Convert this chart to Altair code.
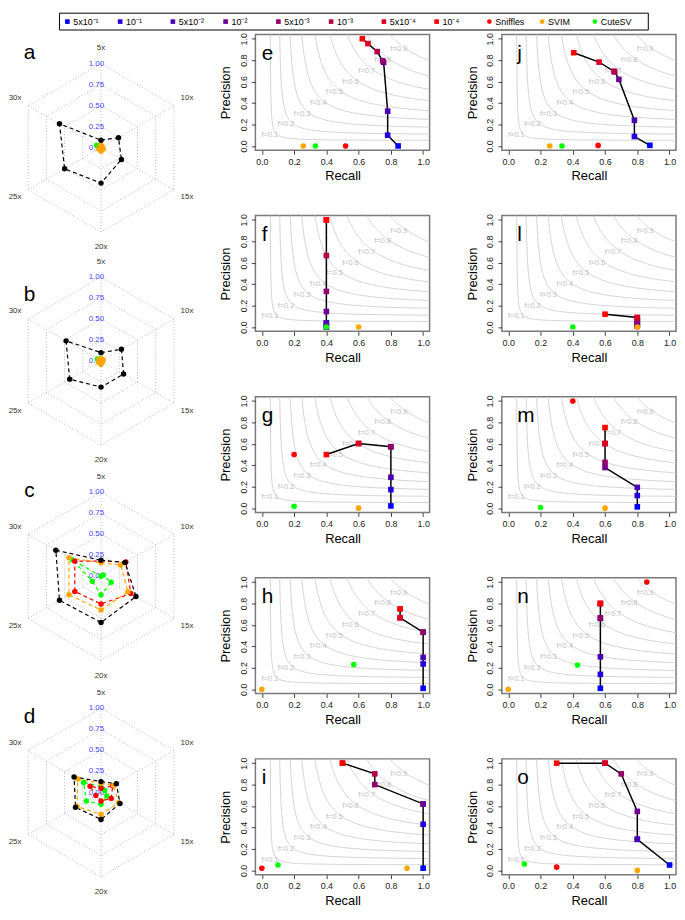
import math
import altair as alt
import numpy as np
import pandas as pd

FONT = "Liberation Sans"

# ---------------- categories / legend ----------------
THRESH_LABELS = ["5x10\u207b\u00b9", "10\u207b\u00b9", "5x10\u207b\u00b2", "10\u207b\u00b2",
                 "5x10\u207b\u00b3", "10\u207b\u00b3", "5x10\u207b\u2074", "10\u207b\u2074"]
THRESH_COLORS = ["#0000FF", "#2400DA", "#4800B6", "#6D0091", "#91006D", "#B60048", "#DA0024", "#FF0000"]
TOOLS = ["Sniffles", "SVIM", "CuteSV"]
TOOL_COLORS = ["#FF0000", "#FFA500", "#00FF00"]

F_LEVELS = [0.1, 0.2, 0.3, 0.4, 0.5, 0.6, 0.7, 0.8, 0.9]
PR_TICKS = [0.0, 0.2, 0.4, 0.6, 0.8, 1.0]

# ---------------- precision / recall panels (thresholds 5x10^-1 ... 10^-4) ----------------
E_THR_RECALL = [0.845, 0.78, 0.78, 0.755, 0.749, 0.715, 0.658, 0.623]
E_THR_PRECISION = [0.0, 0.10, 0.324, 0.78, 0.794, 0.88, 0.955, 1.0]
E_TOOL_RECALL = [0.519, 0.257, 0.332]
E_TOOL_PRECISION = [0.0, 0.0, 0.0]

F_THR_RECALL = [0.4, 0.4, 0.4, 0.4, 0.4, 0.4, 0.4, 0.4]
F_THR_PRECISION = [0.0, 0.033, 0.04, 0.145, 0.333, 0.667, 1.0, 1.0]
F_TOOL_RECALL = [0.4, 0.6, 0.4]
F_TOOL_PRECISION = [0.0, 0.0, 0.0]

G_THR_RECALL = [0.8, 0.8, 0.8, 0.8, 0.8, 0.6, 0.6, 0.4]
G_THR_PRECISION = [0.021, 0.173, 0.288, 0.573, 0.573, 0.603, 0.603, 0.5]
G_TOOL_RECALL = [0.2, 0.6, 0.2]
G_TOOL_PRECISION = [0.5, 0.0, 0.018]

H_THR_RECALL = [1.0, 1.0, 1.0, 1.0, 1.0, 0.857, 0.857, 0.857]
H_THR_PRECISION = [0.009, 0.236, 0.297, 0.533, 0.533, 0.667, 0.667, 0.75]
H_TOOL_RECALL = [0.857, 0.0, 0.570]
H_TOOL_PRECISION = [0.75, 0.0, 0.23]

I_THR_RECALL = [1.0, 1.0, 1.0, 1.0, 0.7, 0.7, 0.5, 0.5]
I_THR_PRECISION = [0.02, 0.43, 0.62, 0.62, 0.8, 0.9, 1.0, 1.0]
I_TOOL_RECALL = [0.0, 0.9, 0.1]
I_TOOL_PRECISION = [0.02, 0.02, 0.05]

J_THR_RECALL = [0.878, 0.782, 0.782, 0.686, 0.660, 0.655, 0.563, 0.406]
J_THR_PRECISION = [0.006, 0.088, 0.239, 0.621, 0.690, 0.697, 0.782, 0.870]
J_TOOL_RECALL = [0.557, 0.257, 0.333]
J_TOOL_PRECISION = [0.005, 0.0, 0.0]

L_THR_RECALL = [0.8, 0.8, 0.8, 0.8, 0.8, 0.8, 0.8, 0.6]
L_THR_PRECISION = [0.01, 0.02, 0.03, 0.05, 0.07, 0.085, 0.09, 0.12]
L_TOOL_RECALL = [0.8, 0.8, 0.4]
L_TOOL_PRECISION = [0.0, 0.0, 0.0]

M_THR_RECALL = [0.8, 0.8, 0.8, 0.6, 0.6, 0.6, 0.6, 0.6]
M_THR_PRECISION = [0.012, 0.118, 0.194, 0.379, 0.427, 0.603, 0.603, 0.752]
M_TOOL_RECALL = [0.4, 0.6, 0.2]
M_TOOL_PRECISION = [1.0, 0.0, 0.006]

N_THR_RECALL = [0.571, 0.571, 0.571, 0.571, 0.571, 0.571, 0.571, 0.571]
N_THR_PRECISION = [0.009, 0.139, 0.303, 0.661, 0.667, 0.8, 0.8, 0.8]
N_TOOL_RECALL = [0.859, 0.0, 0.429]
N_TOOL_PRECISION = [1.0, 0.0, 0.227]

O_THR_RECALL = [1.0, 0.8, 0.8, 0.8, 0.7, 0.6, 0.6, 0.3]
O_THR_PRECISION = [0.05, 0.29, 0.29, 0.55, 0.9, 1.0, 1.0, 1.0]
O_TOOL_RECALL = [0.3, 0.8, 0.1]
O_TOOL_PRECISION = [0.03, 0.0, 0.06]

# ---------------- radar panels (coverage axes) ----------------
RADAR_AXES = ["5x", "10x", "15x", "20x", "25x", "30x"]
RADAR_LEVELS = [0.0, 0.25, 0.5, 0.75, 1.0]
RADAR_SERIES = ["CuteSV", "Sniffles", "SVIM", "Proposed"]   # drawing order
RADAR_SERIES_COLORS = ["#00FF00", "#FF0000", "#FFA500", "#000000"]

RADAR_A_CUTESV = [0.03, 0.01, 0.0, 0.01, 0.02, 0.06]
RADAR_A_SNIFFLES = [0.02, 0.0, 0.01, 0.02, 0.01, 0.02]
RADAR_A_SVIM = [0.03, 0.02, 0.03, 0.04, 0.03, 0.02]
RADAR_A_PROPOSED = [0.09, 0.24, 0.28, 0.42, 0.50, 0.57]

RADAR_B_CUTESV = [0.02, 0.01, 0.0, 0.02, 0.03, 0.05]
RADAR_B_SNIFFLES = [0.01, 0.02, 0.01, 0.0, 0.02, 0.01]
RADAR_B_SVIM = [0.03, 0.03, 0.02, 0.04, 0.03, 0.03]
RADAR_B_PROPOSED = [0.10, 0.28, 0.31, 0.31, 0.43, 0.48]

RADAR_C_CUTESV = [0.0, 0.03, 0.14, 0.22, 0.12, 0.39]
RADAR_C_SNIFFLES = [0.18, 0.34, 0.41, 0.33, 0.36, 0.36]
RADAR_C_SVIM = [0.16, 0.27, 0.37, 0.40, 0.44, 0.44]
RADAR_C_PROPOSED = [0.19, 0.33, 0.48, 0.55, 0.57, 0.62]

RADAR_D_CUTESV = [0.07, 0.05, 0.08, 0.14, 0.20, 0.24]
RADAR_D_SNIFFLES = [0.05, 0.16, 0.14, 0.10, 0.07, 0.15]
RADAR_D_SVIM = [0.11, 0.17, 0.24, 0.26, 0.33, 0.32]
RADAR_D_PROPOSED = [0.13, 0.21, 0.26, 0.32, 0.35, 0.37]

RADAR_PANELS = [
    ("a", [RADAR_A_CUTESV, RADAR_A_SNIFFLES, RADAR_A_SVIM, RADAR_A_PROPOSED]),
    ("b", [RADAR_B_CUTESV, RADAR_B_SNIFFLES, RADAR_B_SVIM, RADAR_B_PROPOSED]),
    ("c", [RADAR_C_CUTESV, RADAR_C_SNIFFLES, RADAR_C_SVIM, RADAR_C_PROPOSED]),
    ("d", [RADAR_D_CUTESV, RADAR_D_SNIFFLES, RADAR_D_SVIM, RADAR_D_PROPOSED]),
]

# ---------------- layout constants ----------------
PANEL_W, PANEL_H = 176, 117
PANEL_VSPACE = 66
COL_SPACE = 73
RADAR_W = 177
RADAR_PX = 85.0
RADAR_CX_PX = 94.0
RADAR_CY_PX = [114.5, 147.0, 181.5, 217.0]      # centre offset below the top of its grid row
RADAR_LETTER_DY_PX = [96, 67, 86, 76]
LEG_W, LEG_H = 675, 18
LEG_X0, LEG_STEP = 60.0, 53.3
LEG_BOX = (52.0, 647.0)

# ================= PR panels =================
pr_x_scale = alt.Scale(domain=[-0.04, 1.04], nice=False, zero=False)
pr_y_scale = alt.Scale(domain=[-0.04, 1.04], nice=False, zero=False)

X_AXIS = alt.Axis(values=PR_TICKS, format=".1f", title="Recall", grid=False, domain=False,
                  tickSize=4, tickColor="#444444", labelFontSize=9, labelColor="#222222",
                  labelPadding=3, labelFont=FONT, titleFont=FONT, titleFontSize=13,
                  titleFontWeight="normal", titleColor="black", titlePadding=4)
Y_AXIS = alt.Axis(values=PR_TICKS, format=".1f", title="Precision", grid=False, domain=False,
                  tickSize=4, tickColor="#444444", labelFontSize=9, labelColor="#222222",
                  labelAngle=270, labelAlign="center", labelBaseline="bottom",
                  labelPadding=3, labelFont=FONT, titleFont=FONT, titleFontSize=13,
                  titleFontWeight="normal", titleColor="black", titlePadding=7)


def px():
    return alt.X("recall:Q", scale=pr_x_scale, axis=X_AXIS)


def py():
    return alt.Y("precision:Q", scale=pr_y_scale, axis=Y_AXIS)


curve_rows = []
for f in F_LEVELS:
    r0 = f * 1.15 / (2.3 - f)
    for j, t in enumerate(np.linspace(0.0, 1.0, 90)):
        r = r0 + (1.04 - r0) * t ** 2
        curve_rows.append({"f": f, "idx": j, "recall": r, "precision": f * r / (2 * r - f)})
curves_df = pd.DataFrame(curve_rows)
flabel_df = pd.DataFrame({"recall": [f - 0.05 for f in F_LEVELS],
                          "precision": F_LEVELS,
                          "text": [f"f={f:.1f}" for f in F_LEVELS]})


def pr_panel(letter, thr_r, thr_p, tool_r, tool_p, letter_x):
    thr_df = pd.DataFrame({"recall": thr_r, "precision": thr_p,
                           "col": THRESH_COLORS, "idx": list(range(len(thr_r)))})
    tool_df = pd.DataFrame({"recall": tool_r, "precision": tool_p, "col": TOOL_COLORS})
    letter_df = pd.DataFrame({"recall": [letter_x], "precision": [0.86], "text": [letter]})

    curves = alt.Chart(curves_df).mark_line(clip=True, color="#cfcfcf", strokeWidth=0.9).encode(
        x=px(), y=py(), detail="f:N", order="idx:Q")
    flabels = alt.Chart(flabel_df).mark_text(fontSize=7.5, color="#bdbdbd", font=FONT).encode(
        x=px(), y=py(), text="text:N")
    path = alt.Chart(thr_df).mark_line(color="black", strokeWidth=1.5).encode(
        x=px(), y=py(), order="idx:Q")
    squares = alt.Chart(thr_df).mark_square(size=32, opacity=1).encode(
        x=px(), y=py(), color=alt.Color("col:N", scale=None))
    tools = alt.Chart(tool_df).mark_circle(size=32, opacity=1).encode(
        x=px(), y=py(), color=alt.Color("col:N", scale=None))
    lab = alt.Chart(letter_df).mark_text(fontSize=21, align="left", baseline="middle",
                                         font=FONT, color="black").encode(
        x=px(), y=py(), text="text:N")
    return alt.layer(curves, flabels, path, squares, tools, lab).properties(
        width=PANEL_W, height=PANEL_H,
        view=alt.ViewBackground(stroke="#7a7a7a", strokeWidth=1.5))


# ================= radar panels =================
rx_scale = alt.Scale(domain=[-RADAR_CX_PX / RADAR_PX, (RADAR_W - RADAR_CX_PX) / RADAR_PX],
                     nice=False, zero=False)
ry_scale = alt.Scale(domain=[-PANEL_H / RADAR_PX, 0.0], nice=False, zero=False)


def rx():
    return alt.X("x:Q", scale=rx_scale, axis=None)


def ry():
    return alt.Y("y:Q", scale=ry_scale, axis=None)


def radar_cell(k):
    letter, series_vals = RADAR_PANELS[k]
    cy = -RADAR_CY_PX[k] / RADAR_PX

    def polar(v, i):
        ang = math.radians(60 * i)
        return v * math.sin(ang), cy + v * math.cos(ang)

    grid_rows, spoke_rows, vlab_rows, alab_rows, ser_rows, pt_rows = [], [], [], [], [], []
    for lev in RADAR_LEVELS[1:]:
        for j in range(7):
            x, y = polar(lev, j % 6)
            grid_rows.append({"x": x, "y": y, "grp": f"{lev}", "idx": j})
    for i in range(6):
        x2, y2 = polar(1.0, i)
        spoke_rows.append({"x": 0.0, "y": cy, "x2": x2, "y2": y2})
        lx, ly = polar(1.18, i)
        alab_rows.append({"x": lx, "y": ly, "text": RADAR_AXES[i]})
    for lev in RADAR_LEVELS:
        vlab_rows.append({"x": -0.055, "y": cy + lev, "text": f"{lev:.2f}"})
    for s, vals in enumerate(series_vals):
        for j in range(7):
            x, y = polar(vals[j % 6], j % 6)
            ser_rows.append({"x": x, "y": y, "grp": f"{s}", "idx": j,
                             "col": RADAR_SERIES_COLORS[s]})
            if j < 6:
                pt_rows.append({"x": x, "y": y, "col": RADAR_SERIES_COLORS[s]})
    let_df = pd.DataFrame({"x": [-0.85], "y": [cy + RADAR_LETTER_DY_PX[k] / RADAR_PX],
                           "text": [letter]})

    r_grid = alt.Chart(pd.DataFrame(grid_rows)).mark_line(
        color="#a8a8a8", strokeWidth=0.8, strokeDash=[1, 2]).encode(
        x=rx(), y=ry(), detail="grp:N", order="idx:Q")
    r_spokes = alt.Chart(pd.DataFrame(spoke_rows)).mark_rule(
        color="#a8a8a8", strokeWidth=0.8, strokeDash=[1, 2]).encode(
        x=rx(), y=ry(), x2="x2:Q", y2="y2:Q")
    r_vlab = alt.Chart(pd.DataFrame(vlab_rows)).mark_text(
        fontSize=8, color="#4646ff", font=FONT).encode(x=rx(), y=ry(), text="text:N")
    r_alab = alt.Chart(pd.DataFrame(alab_rows)).mark_text(
        fontSize=8, color="#333333", font=FONT).encode(x=rx(), y=ry(), text="text:N")
    r_lines = alt.Chart(pd.DataFrame(ser_rows)).mark_line(strokeWidth=1.2, strokeDash=[4, 3]).encode(
        x=rx(), y=ry(), detail="grp:N", order="idx:Q", color=alt.Color("col:N", scale=None))
    r_points = alt.Chart(pd.DataFrame(pt_rows)).mark_circle(size=30, opacity=1).encode(
        x=rx(), y=ry(), color=alt.Color("col:N", scale=None))
    r_letter = alt.Chart(let_df).mark_text(fontSize=21, color="black", font=FONT,
                                           baseline="middle").encode(x=rx(), y=ry(), text="text:N")
    return alt.layer(r_grid, r_spokes, r_vlab, r_alab, r_lines, r_points, r_letter).properties(
        width=RADAR_W, height=PANEL_H)


blank = alt.Chart(pd.DataFrame({"x": [0.0], "y": [0.0]})).mark_point(opacity=0).encode(
    x=rx(), y=ry()).properties(width=RADAR_W, height=PANEL_H)

# ================= legend =================
leg_labels = THRESH_LABELS + TOOLS
leg_df = pd.DataFrame({
    "x": [LEG_X0 + LEG_STEP * i for i in range(len(leg_labels))],
    "y": [LEG_H / 2] * len(leg_labels),
    "label": leg_labels,
    "col": THRESH_COLORS + TOOL_COLORS,
    "shape": ["square"] * len(THRESH_LABELS) + ["circle"] * len(TOOLS),
})
box_df = pd.DataFrame({"x": [LEG_BOX[0]], "x2": [LEG_BOX[1]], "y": [0.5], "y2": [LEG_H - 0.5]})
lx_scale = alt.Scale(domain=[0, LEG_W], nice=False, zero=False)
ly_scale = alt.Scale(domain=[0, LEG_H], nice=False, zero=False)

leg_box = alt.Chart(box_df).mark_rect(fillOpacity=0, stroke="black", strokeWidth=1).encode(
    x=alt.X("x:Q", scale=lx_scale, axis=None), x2="x2:Q",
    y=alt.Y("y:Q", scale=ly_scale, axis=None), y2="y2:Q")
leg_marks = alt.Chart(leg_df).mark_point(filled=True, size=22, opacity=1).encode(
    x=alt.X("x:Q", scale=lx_scale, axis=None), y=alt.Y("y:Q", scale=ly_scale, axis=None),
    shape=alt.Shape("shape:N", scale=None), color=alt.Color("col:N", scale=None))
leg_text = alt.Chart(leg_df).mark_text(align="left", baseline="middle", dx=6, fontSize=9,
                                       font=FONT, color="black").encode(
    x=alt.X("x:Q", scale=lx_scale, axis=None), y=alt.Y("y:Q", scale=ly_scale, axis=None),
    text="label:N")
legend = alt.layer(leg_box, leg_marks, leg_text).properties(width=LEG_W, height=LEG_H)

# ================= assemble =================
cells = [
    radar_cell(0), pr_panel("e", E_THR_RECALL, E_THR_PRECISION, E_TOOL_RECALL, E_TOOL_PRECISION, 0.0),
    pr_panel("j", J_THR_RECALL, J_THR_PRECISION, J_TOOL_RECALL, J_TOOL_PRECISION, 0.055),
    radar_cell(1), pr_panel("f", F_THR_RECALL, F_THR_PRECISION, F_TOOL_RECALL, F_TOOL_PRECISION, 0.0),
    pr_panel("l", L_THR_RECALL, L_THR_PRECISION, L_TOOL_RECALL, L_TOOL_PRECISION, 0.055),
    radar_cell(2), pr_panel("g", G_THR_RECALL, G_THR_PRECISION, G_TOOL_RECALL, G_TOOL_PRECISION, 0.0),
    pr_panel("m", M_THR_RECALL, M_THR_PRECISION, M_TOOL_RECALL, M_TOOL_PRECISION, 0.055),
    radar_cell(3), pr_panel("h", H_THR_RECALL, H_THR_PRECISION, H_TOOL_RECALL, H_TOOL_PRECISION, 0.0),
    pr_panel("n", N_THR_RECALL, N_THR_PRECISION, N_TOOL_RECALL, N_TOOL_PRECISION, 0.055),
    blank, pr_panel("i", I_THR_RECALL, I_THR_PRECISION, I_TOOL_RECALL, I_TOOL_PRECISION, 0.0),
    pr_panel("o", O_THR_RECALL, O_THR_PRECISION, O_TOOL_RECALL, O_TOOL_PRECISION, 0.055),
]
grid = alt.concat(*cells, columns=3, bounds="flush",
                  spacing=alt.RowColnumber(row=PANEL_VSPACE, column=COL_SPACE))
chart = alt.vconcat(legend, grid, spacing=4, bounds="flush").properties(
    padding=0, background="white"
).configure(font=FONT).configure_view(stroke=None)

chart.save("out.html", embed_options={"renderer": "svg", "actions": False})
